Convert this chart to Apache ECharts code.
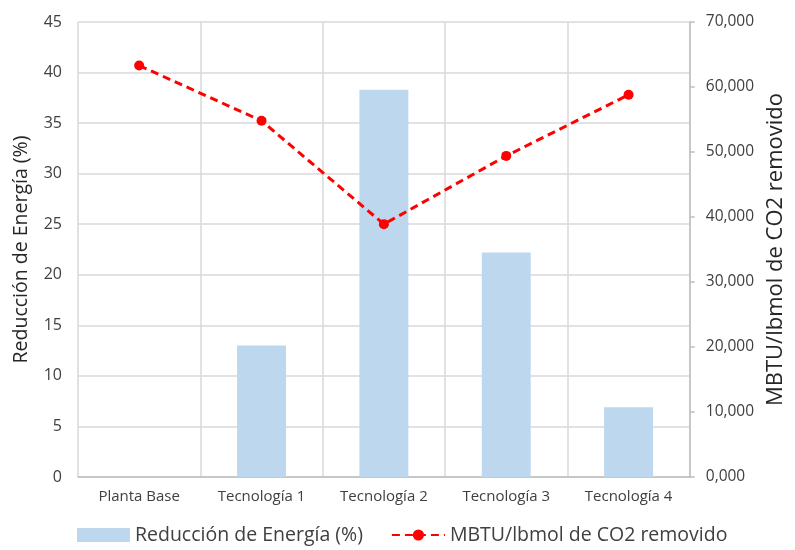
<!DOCTYPE html>
<html>
<head>
<meta charset="utf-8">
<script src="https://cdn.jsdelivr.net/npm/echarts@6/dist/echarts.min.js"></script>
<style>
  html, body { margin: 0; padding: 0; background: #fff; }
  #chart { width: 795px; height: 550px; }
</style>
</head>
<body>
<div id="chart"></div>
<script>
// Categories along the x axis
const categories = ['Planta Base', 'Tecnología 1', 'Tecnología 2', 'Tecnología 3', 'Tecnología 4'];
// Energy reduction (%) per option — base plant has none
const energyReduction = [null, 13.0, 38.3, 22.2, 6.9];
// MBTU per lbmol of CO2 removed
const mbtuPerLbmol = [63.3, 54.8, 38.9, 49.4, 58.8];

const barName = 'Reducción de Energía (%)';
const lineName = 'MBTU/lbmol de CO2 removido';

const font = '"Open Sans", "Noto Sans", sans-serif';
const gridColor = '#d9d9d9';
const textColor = '#404040';

const chart = echarts.init(document.getElementById('chart'));
chart.setOption({
  animation: false,
  textStyle: { fontFamily: font },
  grid: { left: 78, right: 103, top: 22, bottom: 73 },
  legend: {
    bottom: 0,
    left: 72,
    itemGap: 28,
    itemWidth: 53,
    itemHeight: 14,
    textStyle: { fontSize: 19.5, color: textColor, fontFamily: font },
    data: [
      { name: barName, icon: 'rect' },
      { name: lineName }
    ]
  },
  xAxis: {
    type: 'category',
    data: categories,
    boundaryGap: true,
    axisLine: { show: true, lineStyle: { color: '#bfbfbf', width: 1.5 } },
    axisTick: { show: false },
    splitLine: { show: true, lineStyle: { color: gridColor, width: 1.5 } },
    axisLabel: { fontSize: 15, color: textColor, margin: 12, interval: 0 }
  },
  yAxis: [
    {
      type: 'value',
      min: 0, max: 45, interval: 5,
      name: 'Reducción de Energía (%)',
      nameLocation: 'middle',
      nameRotate: 90,
      nameGap: 47,
      nameTextStyle: { fontSize: 19.5, color: '#262626' },
      axisLine: { show: false },
      axisTick: { show: false },
      splitLine: { show: true, lineStyle: { color: gridColor, width: 1.5 } },
      axisLabel: { fontSize: 16, color: textColor, margin: 16 }
    },
    {
      type: 'value',
      min: 0, max: 70, interval: 10,
      name: 'MBTU/lbmol de CO2 removido',
      nameLocation: 'middle',
      nameRotate: 90,
      nameGap: 74,
      nameTextStyle: { fontSize: 22, color: '#262626' },
      axisLine: { show: true, lineStyle: { color: '#bfbfbf', width: 1.5 } },
      axisTick: { show: true, length: 5, lineStyle: { color: '#bfbfbf', width: 1.5 } },
      splitLine: { show: false },
      axisLabel: {
        fontSize: 15.5, color: textColor, margin: 16,
        formatter: v => v.toFixed(3).replace('.', ',')
      }
    }
  ],
  series: [
    {
      name: barName,
      type: 'bar',
      yAxisIndex: 0,
      data: energyReduction,
      barWidth: '40%',
      itemStyle: { color: '#bdd7ee' }
    },
    {
      name: lineName,
      type: 'line',
      yAxisIndex: 1,
      data: mbtuPerLbmol,
      symbol: 'circle',
      symbolSize: 10,
      lineStyle: { color: '#ff0000', width: 3, type: [8, 5] },
      itemStyle: { color: '#ff0000' }
    }
  ]
});
</script>
</body>
</html>
